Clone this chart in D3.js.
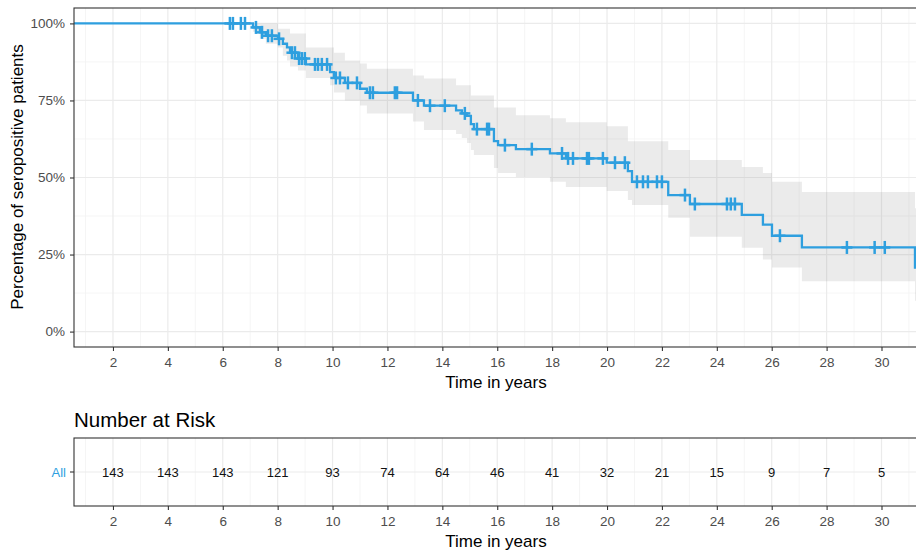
<!DOCTYPE html>
<html>
<head>
<meta charset="utf-8">
<script src="https://cdn.jsdelivr.net/npm/d3@7"></script>
<style>
body { margin: 0; background: #fff; }
text { font-family: "Liberation Sans", Arial, sans-serif; }
</style>
</head>
<body>
<div id="chart"></div>
<script>
// Kaplan-Meier steps (years, % seropositive after the step)
var stepTimes = [7.10, 7.35, 7.57, 8.01, 8.19, 8.34, 8.45, 8.74, 9.03, 9.91, 10.05, 10.45,
    11.00, 11.25, 12.93, 13.33, 14.50, 14.71, 14.90, 15.04, 15.15, 15.88, 16.03, 16.68,
    17.92, 18.50, 19.99, 20.76, 20.91, 22.23, 23.02, 24.91, 25.68, 26.01, 27.10, 31.22];
var stepSurv = [98.7, 97.1, 96.0, 95.0, 93.4, 92.2, 90.5, 88.6, 86.7, 84.2, 82.3, 80.7,
    78.8, 77.5, 75.0, 73.3, 71.8, 70.8, 70.0, 67.3, 65.7, 61.8, 60.5, 59.2,
    57.8, 56.2, 54.8, 52.1, 48.6, 44.3, 41.4, 37.9, 34.7, 31.1, 27.3, 20.8];
var upperCI = [100, 100, 100, 98.3, 98.3, 98.3, 96.7, 96.7, 92.2, 92.2, 90.5, 88.0,
    87.0, 85.3, 83.1, 82.1, 79.9, 79.9, 79.9, 76.6, 76.6, 72.7, 72.7, 70.2,
    69.2, 67.9, 66.6, 61.8, 61.8, 58.9, 55.7, 53.4, 51.5, 48.6, 45.3, 40.0];
var lowerCI = [97.3, 95.0, 93.4, 92.2, 89.5, 88.0, 86.0, 84.7, 82.3, 79.9, 77.6, 75.0,
    73.4, 70.8, 68.2, 65.4, 64.1, 62.8, 61.2, 58.9, 57.3, 53.1, 51.5, 50.2,
    48.6, 46.9, 45.6, 42.7, 41.1, 36.9, 30.8, 27.2, 23.4, 20.8, 16.3, 10.0];
var censorTimes = [6.26, 6.37, 6.66, 6.81, 7.21, 7.43, 7.65, 7.79, 8.05, 8.52, 8.63, 8.78,
    8.88, 8.99, 9.36, 9.47, 9.61, 9.80, 10.12, 10.27, 10.56, 10.89, 11.36, 11.47, 12.27,
    12.35, 13.11, 13.55, 14.09, 14.82, 15.26, 15.63, 15.70, 16.28, 17.26, 18.36, 18.58,
    18.76, 19.27, 19.34, 19.85, 20.29, 20.65, 21.09, 21.31, 21.49, 21.82, 22.00, 22.84,
    23.20, 24.37, 24.51, 24.66, 26.30, 28.74, 29.75, 30.12];
var riskTimes = [2, 4, 6, 8, 10, 12, 14, 16, 18, 20, 22, 24, 26, 28, 30];
var riskCounts = [143, 143, 143, 121, 93, 74, 64, 46, 41, 32, 21, 15, 9, 7, 5];
var xTicks = [2, 4, 6, 8, 10, 12, 14, 16, 18, 20, 22, 24, 26, 28, 30];
var xMinor = [1, 3, 5, 7, 9, 11, 13, 15, 17, 19, 21, 23, 25, 27, 29, 31];
var yTicks = [0, 25, 50, 75, 100];
var yMinor = [12.5, 37.5, 62.5, 87.5];

var width = 916,
    height = 557;
var col = "#2E9FDF";
var left = 74, right = 918;
var top1 = 8, bot1 = 347;
var top2 = 438, bot2 = 506;

var x = d3.scaleLinear().domain([0.58, 31.33]).range([left, right]);
var y = d3.scaleLinear().domain([-5, 105]).range([bot1, top1]);

var svg = d3.select('#chart').append('svg')
    .attr('width', width)
    .attr('height', height);

svg.append('clipPath').attr('id', 'clip1')
    .append('rect').attr('x', left).attr('y', top1)
    .attr('width', right - left).attr('height', bot1 - top1);

// build km data
var km = [{t: 0, s: 100, up: 100, lo: 100}];
stepTimes.forEach(function(t, i) {
    km.push({t: t, s: stepSurv[i], up: upperCI[i], lo: lowerCI[i]});
});
var last = km[km.length - 1];
km.push({t: 31.6, s: last.s, up: last.up, lo: last.lo});

function survAt(t) {
    var s = 100;
    km.forEach(function(d) { if (d.t <= t) s = d.s; });
    return s;
}

// ---- top panel ----
var p1 = svg.append('g');
p1.selectAll('.vminor').data(xMinor).enter().append('line')
    .attr('x1', x).attr('x2', x).attr('y1', top1).attr('y2', bot1)
    .attr('stroke', '#f2f2f2').attr('stroke-width', 0.8);
p1.selectAll('.hminor').data(yMinor).enter().append('line')
    .attr('x1', left).attr('x2', right).attr('y1', y).attr('y2', y)
    .attr('stroke', '#f2f2f2').attr('stroke-width', 0.8);
p1.selectAll('.vmajor').data(xTicks).enter().append('line')
    .attr('x1', x).attr('x2', x).attr('y1', top1).attr('y2', bot1)
    .attr('stroke', '#ebebeb').attr('stroke-width', 1.2);
p1.selectAll('.hmajor').data(yTicks).enter().append('line')
    .attr('x1', left).attr('x2', right).attr('y1', y).attr('y2', y)
    .attr('stroke', '#ebebeb').attr('stroke-width', 1.2);

var plot = p1.append('g').attr('clip-path', 'url(#clip1)');
plot.append('path').datum(km)
    .attr('d', d3.area().curve(d3.curveStepAfter)
        .x(function(d) { return x(d.t); })
        .y0(function(d) { return y(d.lo); })
        .y1(function(d) { return y(d.up); }))
    .attr('fill', '#808080').attr('fill-opacity', 0.16);
plot.append('path').datum(km)
    .attr('d', d3.line().curve(d3.curveStepAfter)
        .x(function(d) { return x(d.t); })
        .y(function(d) { return y(d.s); }))
    .attr('fill', 'none').attr('stroke', col).attr('stroke-width', 2.3);
var marks = plot.selectAll('.cens').data(censorTimes).enter().append('g')
    .attr('transform', function(t) { return 'translate(' + x(t) + ',' + y(survAt(t)) + ')'; });
marks.append('line').attr('x1', 0).attr('x2', 0).attr('y1', -6.5).attr('y2', 6.5)
    .attr('stroke', col).attr('stroke-width', 2.5);
marks.append('line').attr('x1', -5.5).attr('x2', 5.5).attr('y1', 0).attr('y2', 0)
    .attr('stroke', col).attr('stroke-width', 2.5);

p1.append('rect').attr('x', left).attr('y', top1)
    .attr('width', right - left).attr('height', bot1 - top1)
    .attr('fill', 'none').attr('stroke', '#333').attr('stroke-width', 1.1);

var xAxis1 = svg.append('g').attr('transform', 'translate(0,' + bot1 + ')')
    .call(d3.axisBottom(x).tickValues(xTicks).tickSize(4).tickPadding(6));
var yAxis1 = svg.append('g').attr('transform', 'translate(' + left + ',0)')
    .call(d3.axisLeft(y).tickValues(yTicks).tickSize(4).tickPadding(5)
        .tickFormat(function(d) { return d + '%'; }));
[xAxis1, yAxis1].forEach(function(a) {
    a.select('.domain').remove();
    a.selectAll('.tick line').attr('stroke', '#333').attr('stroke-width', 1.1);
    a.selectAll('.tick text').attr('fill', '#4d4d4d').style('font-size', '13.5px');
});

svg.append('text').attr('x', (left + right) / 2).attr('y', 388)
    .attr('text-anchor', 'middle').style('font-size', '17px').text('Time in years');
svg.append('text').attr('transform', 'translate(23,' + 177 + ') rotate(-90)')
    .attr('text-anchor', 'middle').style('font-size', '17px')
    .text('Percentage of seropositive patients');

// ---- risk table ----
svg.append('text').attr('x', 74).attr('y', 427)
    .style('font-size', '20.5px').text('Number at Risk');

var p2 = svg.append('g');
p2.selectAll('.vminor2').data(xMinor).enter().append('line')
    .attr('x1', x).attr('x2', x).attr('y1', top2).attr('y2', bot2)
    .attr('stroke', '#f2f2f2').attr('stroke-width', 0.8);
p2.selectAll('.vmajor2').data(xTicks).enter().append('line')
    .attr('x1', x).attr('x2', x).attr('y1', top2).attr('y2', bot2)
    .attr('stroke', '#ebebeb').attr('stroke-width', 1.2);
var yRisk = 472;
p2.append('line').attr('x1', left).attr('x2', right).attr('y1', yRisk).attr('y2', yRisk)
    .attr('stroke', '#ebebeb').attr('stroke-width', 1.2);
p2.selectAll('.risk').data(riskTimes).enter().append('text')
    .attr('x', x).attr('y', yRisk + 4.5)
    .attr('text-anchor', 'middle').style('font-size', '13px').attr('fill', '#111')
    .text(function(d, i) { return riskCounts[i]; });
p2.append('rect').attr('x', left).attr('y', top2)
    .attr('width', right - left).attr('height', bot2 - top2)
    .attr('fill', 'none').attr('stroke', '#333').attr('stroke-width', 1.1);
p2.append('line').attr('x1', left - 4).attr('x2', left).attr('y1', yRisk).attr('y2', yRisk)
    .attr('stroke', '#333').attr('stroke-width', 1.1);
p2.append('text').attr('x', left - 8).attr('y', yRisk + 4.5)
    .attr('text-anchor', 'end').style('font-size', '13px').attr('fill', col).text('All');

var xAxis2 = svg.append('g').attr('transform', 'translate(0,' + bot2 + ')')
    .call(d3.axisBottom(x).tickValues(xTicks).tickSize(4).tickPadding(6));
xAxis2.select('.domain').remove();
xAxis2.selectAll('.tick line').attr('stroke', '#333').attr('stroke-width', 1.1);
xAxis2.selectAll('.tick text').attr('fill', '#4d4d4d').style('font-size', '13.5px');

svg.append('text').attr('x', (left + right) / 2).attr('y', 547)
    .attr('text-anchor', 'middle').style('font-size', '17px').text('Time in years');
</script>
</body>
</html>
